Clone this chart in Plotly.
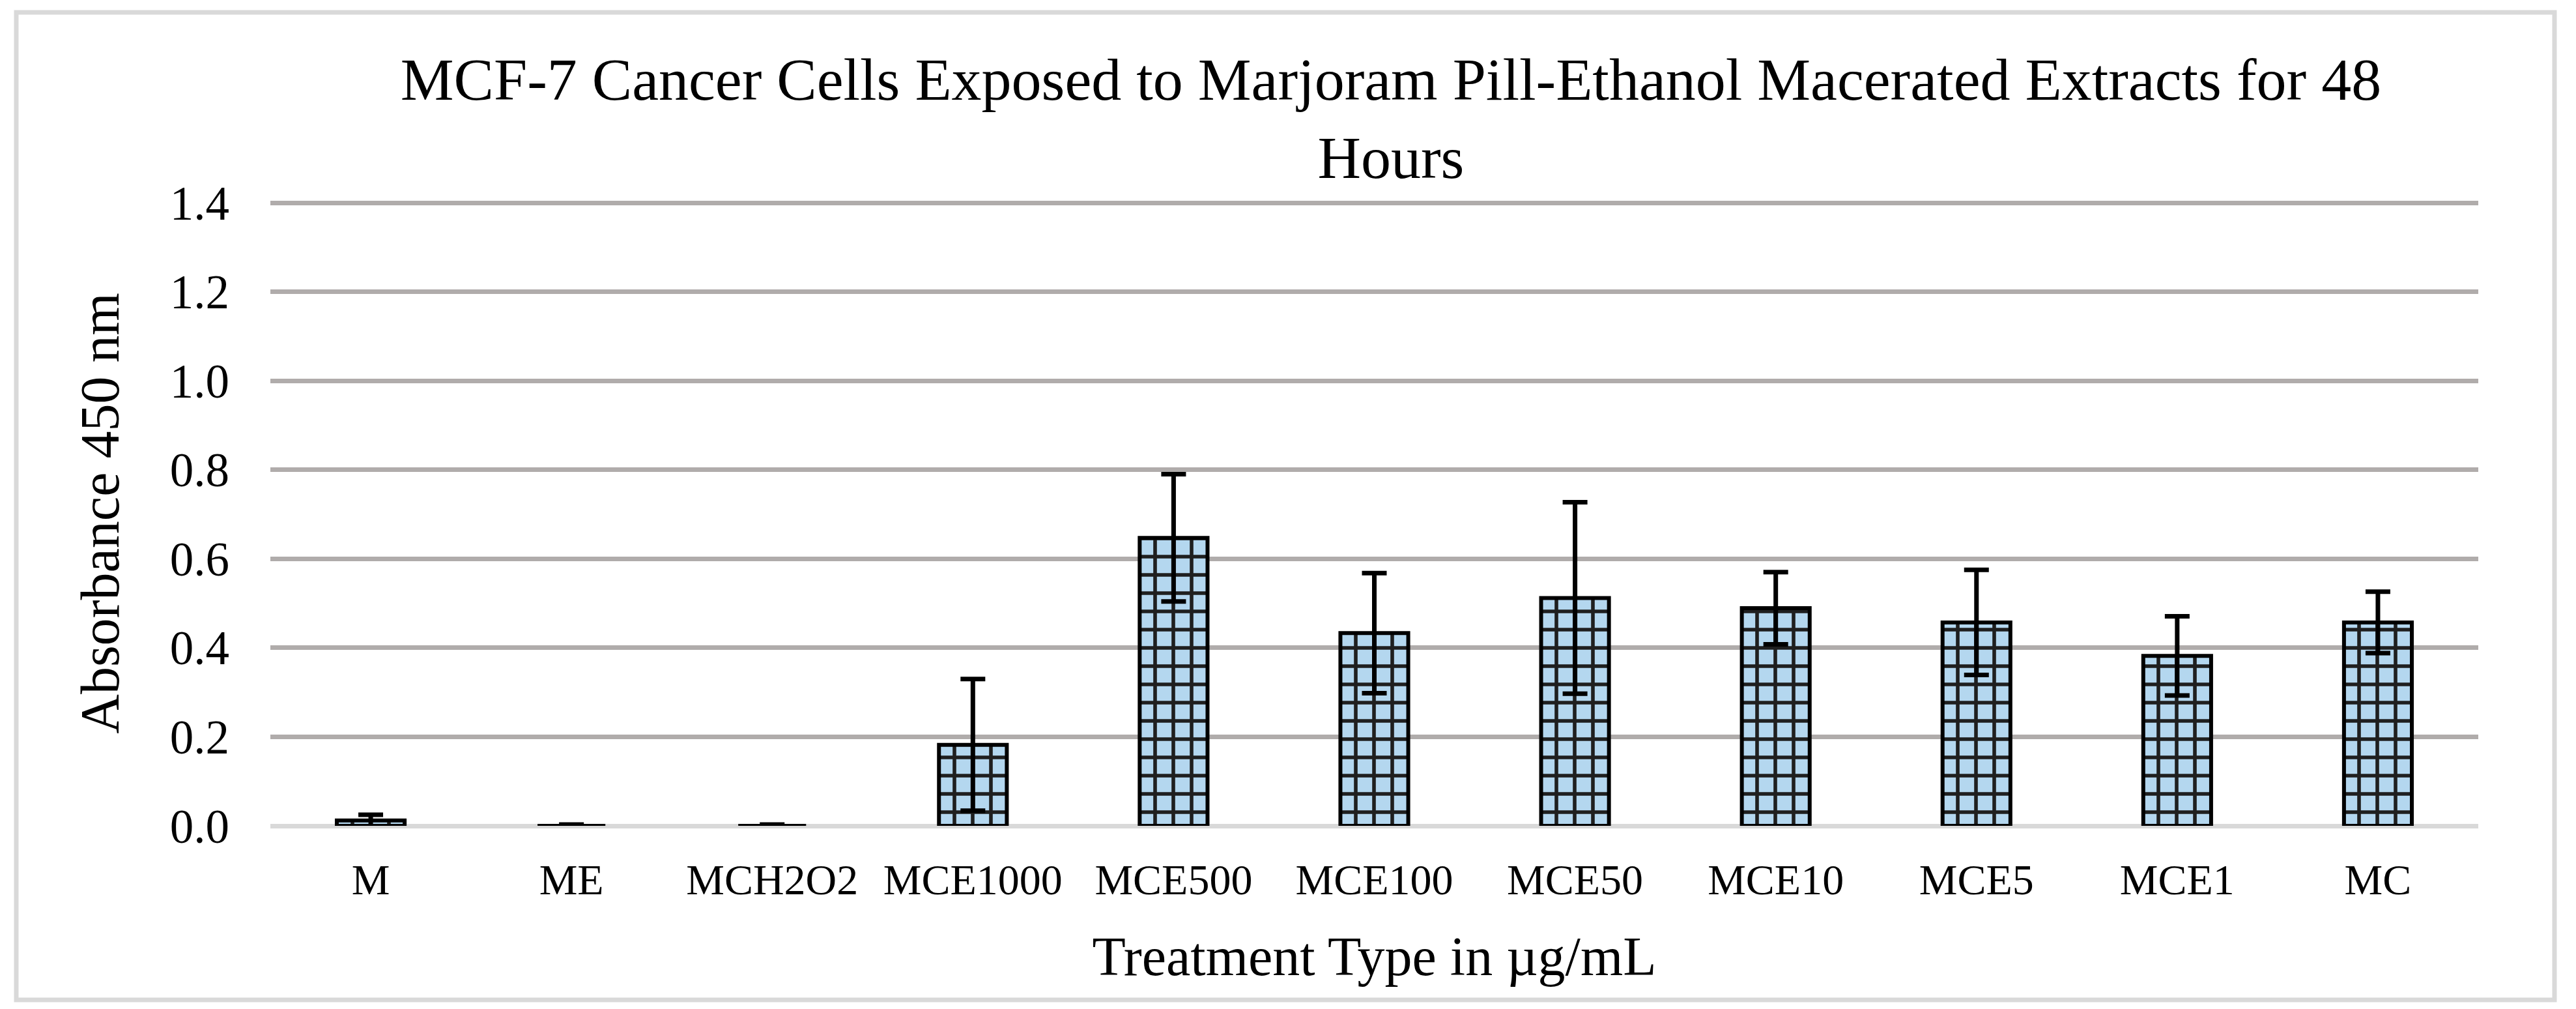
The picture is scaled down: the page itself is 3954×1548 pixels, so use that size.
import plotly.graph_objects as go

# ---- data ----
categories = ["M", "ME", "MCH2O2", "MCE1000", "MCE500", "MCE100",
              "MCE50", "MCE10", "MCE5", "MCE1", "MC"]
absorbance = [0.012, 0.0, 0.0, 0.182, 0.647, 0.433, 0.512, 0.489, 0.457, 0.382, 0.457]
error_sd = [0.013, 0.003, 0.003, 0.148, 0.143, 0.135, 0.215, 0.081, 0.118, 0.089, 0.069]
y_ticks = [0.0, 0.2, 0.4, 0.6, 0.8, 1.0, 1.2, 1.4]

title_text = ("MCF-7 Cancer Cells Exposed to Marjoram Pill-Ethanol Macerated Extracts for 48"
              "<br>Hours")
x_title = "Treatment Type in µg/mL"
y_title = "Absorbance 450 nm"

FONT = "Liberation Serif, Times New Roman, serif"
W, H = 3954, 1548
L, R, T, B = 415, 150, 308, 281

fig = go.Figure()
fig.add_trace(go.Bar(
    x=categories,
    y=absorbance,
    error_y=dict(type="data", array=error_sd, visible=True,
                 color="black", thickness=7, width=19),
    marker=dict(
        color="#b4d7ef",
        line=dict(color="black", width=6),
        pattern=dict(shape="+", fgcolor="#1f1f1f", bgcolor="#b4d7ef",
                     fgopacity=1, size=28, solidity=0.36, fillmode="replace"),
    ),
    showlegend=False,
))

pw = W - L - R
ph = H - T - B
fig.add_shape(type="rect", xref="paper", yref="paper",
              x0=(25 - L) / pw, x1=(3921 - L) / pw,
              y0=(H - B - 1534) / ph, y1=(H - B - 19) / ph,
              line=dict(color="#d9d9d9", width=7), layer="below")

fig.update_layout(
    width=W, height=H,
    margin=dict(l=L, r=R, t=T, b=B, autoexpand=False),
    paper_bgcolor="white", plot_bgcolor="white",
    bargap=0.662,
    font=dict(family=FONT, color="black"),
    title=dict(text=title_text, x=2135 / W, xanchor="center",
               y=1 - 153 / H, yanchor="top", yref="container",
               font=dict(family=FONT, size=92, color="black")),
    xaxis=dict(
        showgrid=False, showline=False, ticks="",
        tickfont=dict(family=FONT, size=66, color="black"),
        ticklabelstandoff=38,
        title=dict(text=x_title, font=dict(family=FONT, size=84, color="black"),
                   standoff=52),
        automargin=False,
    ),
    yaxis=dict(
        range=[0, 1.4044], tickvals=y_ticks, tickformat=".1f",
        showgrid=True, gridcolor="#b0acab", gridwidth=7,
        zeroline=True, zerolinecolor="#d9d9d9", zerolinewidth=7,
        showline=False, ticks="",
        tickfont=dict(family=FONT, size=73, color="black"),
        ticklabelstandoff=62,
        title=dict(text=y_title, font=dict(family=FONT, size=84, color="black"),
                   standoff=50),
        automargin=False,
    ),
)

fig.write_html("out.html", config={"displayModeBar": False},
               post_script="document.body.style.margin='0';document.body.style.overflow='hidden';")
